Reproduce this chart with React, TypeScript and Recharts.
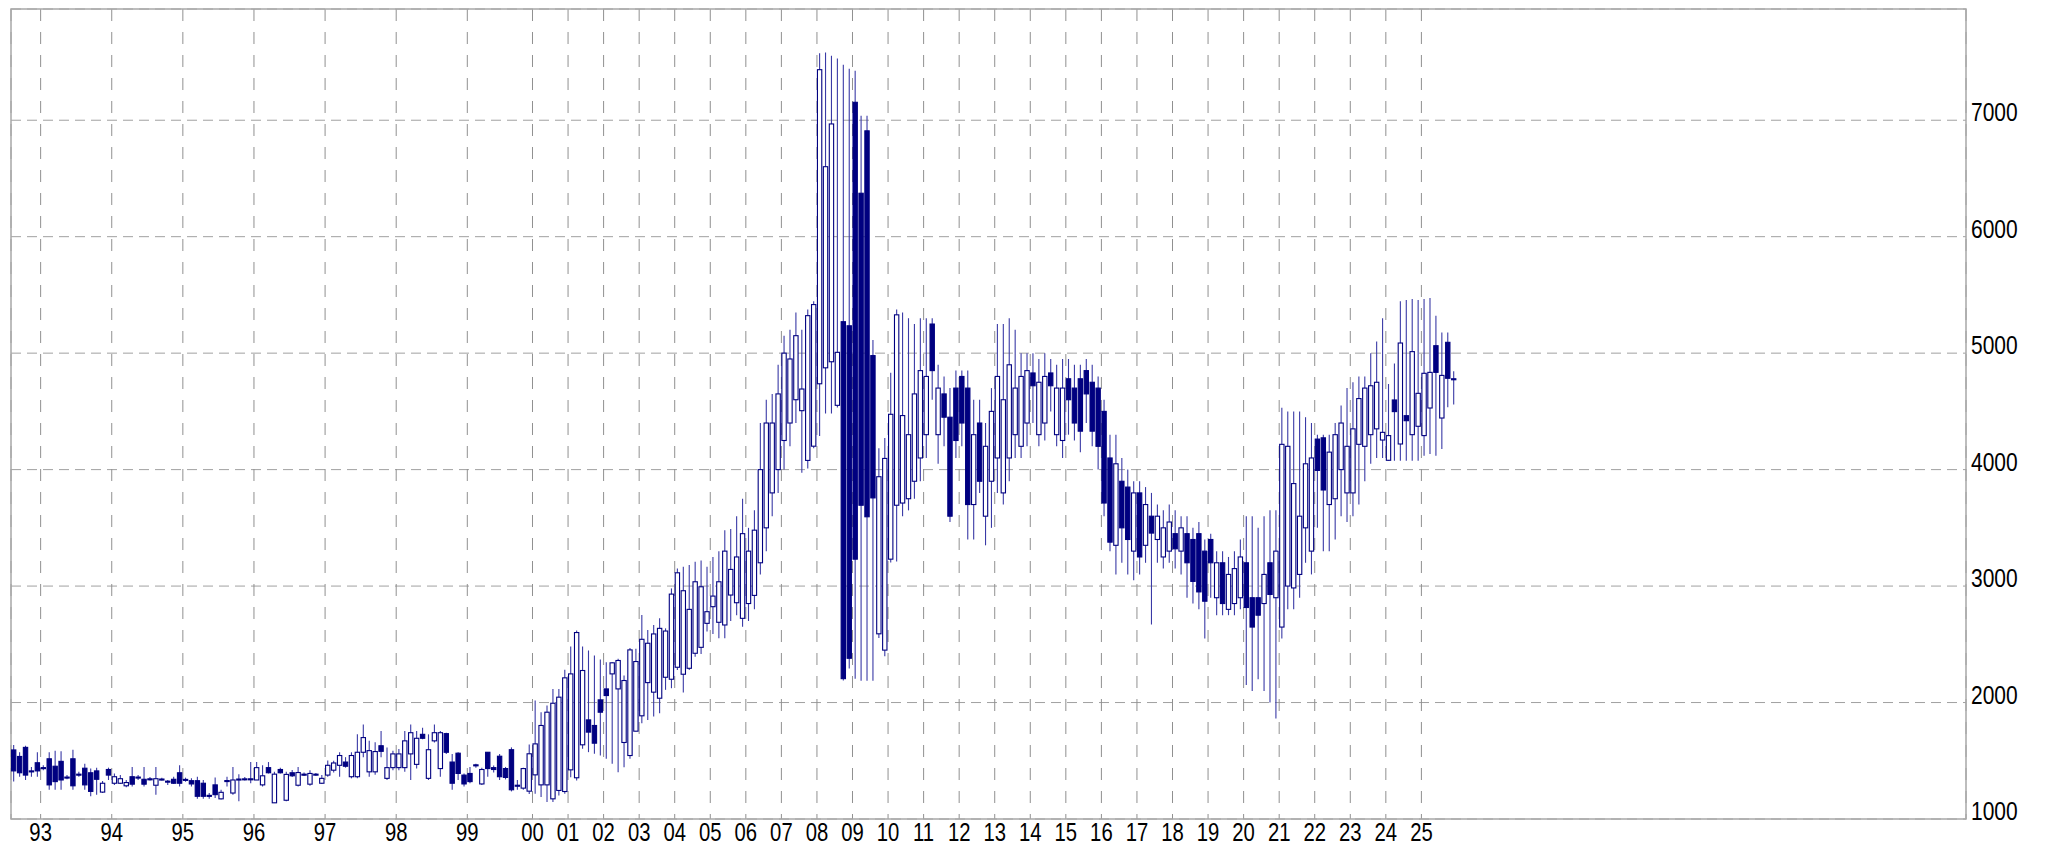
import React from 'react';
import { ComposedChart, Bar, XAxis, YAxis, CartesianGrid, ReferenceArea } from 'recharts';

// OHLC per candle (1992-08 .. monthly through 1999, then two-month candles)
const opens = [
1593,1537,1615,1413,1483,1441,1517,1453,1495,1360,1517,1385,1436,1397,1413,1231,1425,1307,1307,1285,
1363,1360,1341,1345,1290,1343,1325,1341,1397,1340,1329,1329,1307,1203,1293,1173,1330,1223,1341,1343,
1345,1335,1293,1441,1139,1425,1161,1397,1290,1385,1299,1380,1307,1377,1419,1461,1489,1363,1363,1573,
1405,1405,1629,1349,1441,1441,1441,1559,1469,1727,1349,1671,1433,1733,1489,1565,1377,1391,1465,1301,
1573,1441,1539,1433,1595,1290,1265,1239,1379,1293,1293,1173,1245,1236,1422,1354,1637,1851,1803,2023,
2117,2246,2117,1657,1545,1754,1886,2171,2089,2037,2217,2200,2303,2243,2294,2423,2474,2680,2823,2689,
2666,2923,2857,2723,2850,2920,3200,3500,3800,4000,4250,4400,4600,4506,4079,4201,4737,4874,4926,4552,
5270,5235,7154,6373,6909,4979,2590,2450,3231,3694,3713,3750,3900,4100,4300,5250,4300,4650,4450,4700,
4800,4700,3700,4400,3600,3900,4100,3800,4100,4300,4200,4400,4830,4300,4400,4830,4300,4250,4780,4700,
4780,4850,4750,4700,4500,4100,3350,3900,3850,3300,3800,3350,3600,3400,3250,3300,3450,3300,3450,3400,
3450,3300,3400,2900,3200,2800,2850,2900,3200,2900,2900,2850,3200,2900,2648,3000,2984,3100,3500,3300,
4262,4273,3700,3750,4000,3800,3800,4217,4200,4300,4350,4254,4080,4598,4220,4463,4300,4372,4292,4529,
5064,4443,5093,4780];
const highs = [
1635,1573,1629,1447,1573,1461,1573,1587,1581,1377,1595,1405,1475,1433,1441,1327,1441,1391,1377,1335,
1447,1377,1447,1360,1447,1355,1335,1363,1461,1355,1349,1363,1335,1223,1357,1251,1363,1447,1385,1360,
1489,1489,1461,1489,1405,1440,1405,1420,1447,1400,1419,1395,1377,1503,1500,1573,1531,1573,1727,1811,
1671,1660,1755,1615,1587,1601,1755,1811,1755,1783,1727,1811,1755,1741,1559,1573,1391,1447,1475,1441,
1575,1460,1559,1447,1615,1335,1441,1640,2017,1917,1974,2117,2117,2281,2481,2618,2481,2447,2404,2369,
2346,2346,2375,2232,2469,2461,2751,2623,2666,2723,2637,2980,3150,3166,3180,3208,3220,3166,3250,3300,
3480,3490,3600,3750,3500,3650,4400,4600,4650,4900,5150,5200,5350,5200,5375,5445,7574,7581,7553,7529,
7476,7441,7424,7039,7039,5112,4184,4271,4832,5375,5350,5300,5250,5300,5300,5300,4900,4800,4700,4850,
4850,4850,4600,4600,4400,4700,5250,5250,5300,5200,5000,5000,5000,4950,5000,4950,4900,4950,4950,4900,
4900,4950,4900,4800,4600,4300,4300,4100,4000,3900,3900,3850,3800,3700,3650,3700,3650,3600,3600,3500,
3550,3400,3450,3300,3300,3250,3300,3400,3600,3600,3500,3600,3650,3650,4531,4500,4500,4500,4450,4400,
4300,4300,4300,4400,4550,4700,4750,4800,4800,5000,5100,5300,4735,4912,5445,5456,5465,5456,5465,5473,
5322,5178,5178,4844];
const lows = [
1321,1363,1335,1363,1363,1419,1251,1251,1251,1341,1251,1363,1251,1195,1209,1223,1335,1293,1301,1273,
1279,1335,1279,1330,1209,1330,1293,1300,1279,1320,1279,1173,1173,1173,1181,1167,1279,1209,1153,1330,
1307,1335,1279,1391,1139,1390,1153,1360,1279,1370,1285,1370,1301,1363,1400,1363,1441,1349,1349,1531,
1363,1380,1531,1335,1419,1419,1405,1335,1433,1685,1335,1657,1363,1559,1251,1335,1279,1307,1441,1293,
1363,1400,1335,1340,1237,1251,1251,1215,1216,1188,1145,1145,1202,1216,1359,1331,1603,1574,1560,1545,
1517,1474,1402,1445,1517,1754,1823,1851,1880,1909,2109,2123,2280,2086,2280,2394,2417,2609,2589,2551,
2551,2700,2750,2650,2700,2800,3100,3300,3600,3800,4000,4200,4400,3974,4009,4184,4289,4482,4482,4534,
2190,2293,2205,2187,2187,2187,2555,2397,3203,3210,3600,3650,3750,3900,4100,4600,4050,4200,3550,4100,
4200,3400,3400,3800,3350,3500,3800,3700,3900,4100,4100,4200,4400,4200,4250,4500,4200,4100,4300,4250,
4150,4400,4200,4000,3600,3300,3100,3200,3100,3050,3100,3200,2670,3200,3150,3200,3150,3100,2900,2850,
2800,2550,2900,2750,2750,2750,2750,2800,2150,2100,2200,2100,2000,1863,2550,2800,2800,2900,3200,3100,
3500,3300,3300,3400,3600,3550,3600,3700,3900,4050,4100,4100,4077,4077,4077,4077,4077,4077,4120,4135,
4120,4177,4535,4558];
const closes = [
1413,1397,1377,1405,1413,1437,1293,1321,1335,1357,1285,1380,1293,1237,1341,1307,1377,1363,1346,1313,
1299,1355,1299,1341,1346,1341,1321,1307,1307,1338,1301,1195,1195,1200,1209,1229,1327,1335,1343,1345,
1341,1441,1371,1397,1385,1397,1383,1371,1399,1383,1391,1385,1349,1461,1481,1545,1453,1545,1573,1699,
1587,1579,1581,1441,1559,1559,1671,1741,1693,1693,1595,1741,1741,1573,1307,1391,1301,1321,1461,1425,
1433,1425,1363,1357,1251,1285,1433,1560,1645,1803,1917,1994,2046,2212,2246,2601,2275,1746,1651,1917,
2060,2341,2361,2189,2452,2352,2543,2509,2589,2637,2614,2931,3114,2960,2800,3037,2994,2780,2914,3037,
3300,3143,3250,3450,3300,3480,4000,4400,4400,4650,5000,4950,5150,4692,5322,5417,7434,6601,6968,5007,
2205,2380,3231,3694,3595,3757,3939,4096,4475,5329,4464,4300,4650,4850,4800,4850,4700,4450,3600,4250,
4400,3700,4300,3900,4200,4500,4800,4600,4900,4700,4800,4850,4720,4750,4800,4720,4700,4700,4600,4400,
4330,4650,4330,4200,3713,3377,4050,3500,3400,3800,3250,3700,3455,3600,3500,3550,3320,3500,3200,3040,
2950,2870,3200,3200,2850,3100,3150,3250,2816,2648,2750,3100,2928,3300,4217,4200,3880,3600,4050,4100,
3993,3825,4150,4300,4400,4200,4350,4610,4700,4720,4750,4320,4292,4498,5087,4420,5013,4655,4827,4835,
4835,4809,4784,4775];

const yearStarts = [5,17,29,41,53,65,77,88,94,100,106,112,118,124,130,136,142,148,154,160,166,172,178,184,190,196,202,208,214,220,226,232,238];
const yearLabels = ['93','94','95','96','97','98','99','00','01','02','03','04','05','06','07','08','09','10','11','12','13','14','15','16','17','18','19','20','21','22','23','24','25'];
const priceTicks = [1000,2000,3000,4000,5000,6000,7000];

const data = opens.map((o, i) => ({
  idx: i,
  range: [lows[i], highs[i]],
  open: o,
  high: highs[i],
  low: lows[i],
  close: closes[i],
}));

const NAVY = '#000080';

const Candle = (props: any) => {
  const { x, y, width, height, payload } = props;
  const { open, close, high, low } = payload;
  const cx = x + width / 2;
  const span = high - low;
  const toY = (v: number) => (span === 0 ? y : y + ((high - v) / span) * height);
  const top = toY(Math.max(open, close));
  const bot = toY(Math.min(open, close));
  const up = close >= open;
  return (
    <g>
      <line x1={cx} x2={cx} y1={y} y2={y + height} stroke="#3a3aa6" strokeWidth={1.1} />
      <rect
        x={x + 0.5}
        y={top}
        width={width - 1}
        height={Math.max(bot - top, 1)}
        fill={up ? '#ffffff' : NAVY}
        stroke={NAVY}
        strokeWidth={1.1}
      />
    </g>
  );
};

const XTick = (props: any) => {
  const { x, y, index } = props;
  return (
    <g transform={`translate(${x},${y + 14}) scale(0.78,1)`}>
      <text x={0} y={0} textAnchor="middle" fontFamily="'Liberation Sans', Arial, sans-serif" fontSize={26} fill="#000">
        {yearLabels[index]}
      </text>
    </g>
  );
};

const YTick = (props: any) => {
  const { x, y, payload } = props;
  return (
    <g transform={`translate(${x - 3},${y + 1}) scale(0.84,1)`}>
      <text x={0} y={0} textAnchor="start" fontFamily="'Liberation Sans', Arial, sans-serif" fontSize={25} fill="#000">
        {payload.value}
      </text>
    </g>
  );
};

export default function App() {
  return (
    <div style={{ position: 'absolute', left: 0, top: 0, width: 2046, height: 848, background: '#fff' }}>
      <ComposedChart width={2046} height={848} data={data} margin={{ top: 9, right: 0, bottom: 0, left: 11 }}>
        <CartesianGrid vertical={false} stroke="#a0a0a0" strokeDasharray="10 6" />
        <CartesianGrid horizontal={false} stroke="#909090" strokeDasharray="12 11" />
        <XAxis
          dataKey="idx"
          type="number"
          domain={[-0.5, 329.4]}
          ticks={yearStarts.map((s) => s - 0.5)}
          interval={0}
          tick={<XTick />}
          tickLine={false}
          axisLine={false}
          height={29}
          allowDataOverflow
        />
        <YAxis
          orientation="right"
          type="number"
          domain={[1000, 7955]}
          ticks={priceTicks}
          interval={0}
          tick={<YTick />}
          tickLine={false}
          axisLine={false}
          width={80}
          allowDataOverflow
        />
        <ReferenceArea x1={-0.5} x2={329.4} y1={1000} y2={7955} fill="none" stroke="#a8a8a8" strokeWidth={1.5} ifOverflow="visible" />
        <Bar dataKey="range" shape={<Candle />} barSize={6} isAnimationActive={false} />
      </ComposedChart>
    </div>
  );
}
